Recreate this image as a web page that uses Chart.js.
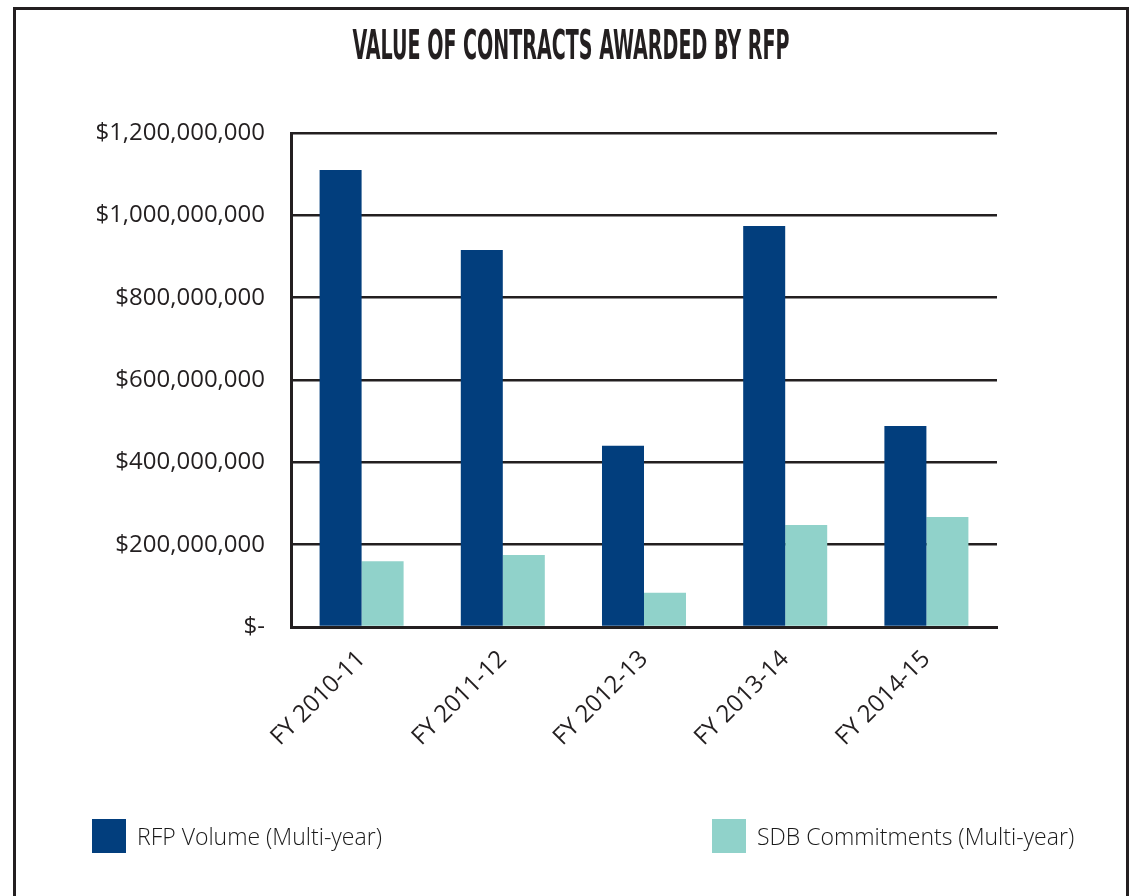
<!DOCTYPE html>
<html>
<head>
<meta charset="utf-8">
<script src="https://cdn.jsdelivr.net/npm/chart.js@4.4.1/dist/chart.umd.min.js"></script>
<style>
  html, body { margin: 0; padding: 0; background: #fff; overflow: hidden; }
  .frame {
    position: absolute; left: 13px; top: 7px; width: 1116px; height: 1000px;
    border: 3px solid #231f20; box-sizing: border-box;
  }
  .chart-box { position: absolute; left: 0; top: 0; width: 1130px; height: 896px; }
  .legend-item {
    position: absolute; top: 819px; display: flex; align-items: center;
    font-family: "Open Sans", sans-serif; font-size: 23px; font-weight: 300; color: #1a1a1a;
  }
  .legend-item .swatch { width: 34px; height: 34px; margin-right: 11px; }
</style>
</head>
<body>
<div class="frame"></div>
<div class="chart-box"><canvas id="rfpChart" width="1130" height="896"></canvas></div>
<div id="legend"></div>
<script>
const chartTitle = 'VALUE OF CONTRACTS AWARDED BY RFP';
const categories = ['FY 2010-11', 'FY 2011-12', 'FY 2012-13', 'FY 2013-14', 'FY 2014-15'];
const rfpVolume = [1110000000, 916000000, 440000000, 974000000, 488000000];
const sdbCommitments = [160000000, 175000000, 83000000, 248000000, 267000000];
const yTickLabels = ['$-', '$200,000,000', '$400,000,000', '$600,000,000', '$800,000,000', '$1,000,000,000', '$1,200,000,000'];
const seriesNames = ['RFP Volume (Multi-year)', 'SDB Commitments (Multi-year)'];

const ink = '#231f20';
const tickFont = { family: 'Open Sans', size: 24 };

// condensed title, squeezed to the width it has in the print version
const squeezedTitle = {
    id: 'squeezedTitle',
    afterDraw(chart, args, opts) {
        const ctx = chart.ctx;
        ctx.save();
        ctx.font = 'bold 41px "Liberation Sans Narrow", "DejaVu Sans Condensed", sans-serif';
        const w = ctx.measureText(opts.text).width;
        ctx.translate(opts.x, opts.y);
        ctx.scale(opts.width / w, 1);
        ctx.textAlign = 'center';
        ctx.textBaseline = 'alphabetic';
        ctx.fillStyle = ink;
        ctx.fillText(opts.text, 0, 0);
        ctx.restore();
    }
};

var rfpCtx = document.getElementById('rfpChart').getContext('2d');
var rfpChart = new Chart(rfpCtx, {
    type: 'bar',
    data: {
        labels: categories,
        datasets: [{
            label: seriesNames[0],
            data: rfpVolume,
            backgroundColor: '#023e7d',
            borderWidth: 0,
            barPercentage: 1,
            categoryPercentage: 0.595,
        }, {
            label: seriesNames[1],
            data: sdbCommitments,
            backgroundColor: '#90d2ca',
            borderWidth: 0,
            barPercentage: 1,
            categoryPercentage: 0.595,
        }]
    },
    options: {
        responsive: false,
        animation: false,
        layout: {
            padding: { left: 0, right: 133, top: 133, bottom: 119 }
        },
        scales: {
            x: {
                grid: { display: false, drawTicks: false },
                border: { display: true, color: ink, width: 3, z: 1 },
                ticks: {
                    minRotation: 45,
                    maxRotation: 45,
                    padding: 18,
                    color: ink,
                    font: tickFont
                },
                afterFit(scale) { scale.height = 150; }
            },
            y: {
                min: 0,
                max: 1200000000,
                ticks: {
                    stepSize: 200000000,
                    padding: 26,
                    color: ink,
                    font: tickFont,
                    callback: (value, index) => yTickLabels[index]
                },
                grid: { color: ink, lineWidth: 2.5, drawTicks: false },
                border: { display: true, color: ink, width: 3 },
                afterFit(scale) { scale.width = 291; }
            }
        },
        plugins: {
            legend: { display: false },
            tooltip: { enabled: false },
            squeezedTitle: { text: chartTitle, x: 571, y: 59, width: 437 }
        }
    },
    plugins: [squeezedTitle]
});

// legend sits far apart at the bottom, so build it by hand from the datasets
const legendLefts = [92, 712];
const legendBox = document.getElementById('legend');
rfpChart.data.datasets.forEach((ds, i) => {
    const item = document.createElement('div');
    item.className = 'legend-item';
    item.style.left = legendLefts[i] + 'px';
    const swatch = document.createElement('span');
    swatch.className = 'swatch';
    swatch.style.background = ds.backgroundColor;
    const text = document.createElement('span');
    text.textContent = ds.label;
    item.appendChild(swatch);
    item.appendChild(text);
    legendBox.appendChild(item);
});
</script>
</body>
</html>
